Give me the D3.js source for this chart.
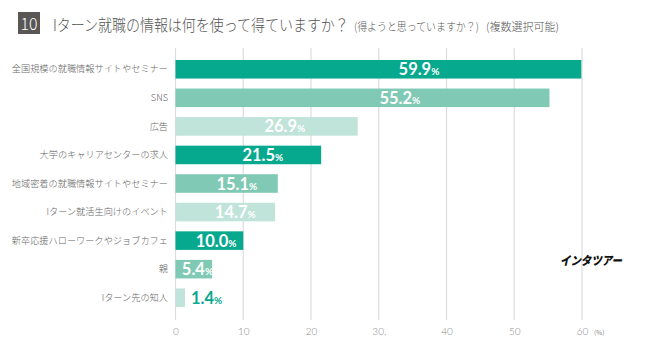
<!DOCTYPE html>
<html><head><meta charset="utf-8">
<script src="https://cdn.jsdelivr.net/npm/d3@7"></script>
<style>
html,body{margin:0;padding:0;background:#fff;}
svg{display:block;}
</style></head>
<body>
<svg id="chart" width="652" height="349"></svg>
<script>
const categories = [
  "全国規模の就職情報サイトやセミナー",
  "SNS",
  "広告",
  "大学のキャリアセンターの求人",
  "地域密着の就職情報サイトやセミナー",
  "Iターン就活生向けのイベント",
  "新卒応援ハローワークやジョブカフェ",
  "親",
  "Iターン先の知人"
];
const values = [59.9, 55.2, 26.9, 21.5, 15.1, 14.7, 10.0, 5.4, 1.4];
const tickValues = [0, 10, 20, 30, 40, 50, 60];
const tickLabels = ["0", "10", "20", "30,", "40", "50", "60"];
const shadeCycle = ["#06a88e", "#80c9b4", "#c0e4d9"];
const titleMain = "Iターン就職の情報は何を使って得ていますか？";
const titleSub1 = "(得ようと思っていますか？)";
const titleSub2 = "(複数選択可能)";
const questionNo = "10";
const unitLabel = "(%)";
const brand = "インタツアー";

const svg = d3.select("#chart");
const jp = "'Noto Sans CJK JP','Noto Sans',sans-serif";
const num = "Lato,'Open Sans',sans-serif";

const x = d3.scaleLinear().domain([0, 60]).range([175.5, 582]);
const y = d3.scaleBand().domain(categories).range([55, 312]).paddingInner(0.35).paddingOuter(0.175);
const color = d3.scaleOrdinal().domain(categories).range(categories.map((d, i) => shadeCycle[i % 3]));

// helper: draw text squeezed horizontally to a target width
function fitText(str, x0, y0, size, weight, fill, width, family) {
  const g = svg.append("g").attr("transform", `translate(${x0},${y0})`);
  const t = g.append("text").attr("font-family", family || jp).attr("font-size", size)
    .attr("font-weight", weight).attr("fill", fill).text(str);
  const w = t.node().getComputedTextLength();
  t.attr("transform", `scale(${Math.min(1, width / w)},1)`);
  return t;
}

// Title
svg.append("rect").attr("x", 18).attr("y", 12).attr("width", 22).attr("height", 22).attr("fill", "#5a5655");
fitText(questionNo, 20.5, 30, 17, 300, "#fff", 17);
fitText(titleMain, 53, 31, 15.5, 300, "#555", 296);
fitText(titleSub1, 354, 31, 11, 300, "#555", 125);
fitText(titleSub2, 486, 31, 11, 300, "#555", 83);

// Gridlines + axis labels
const axis = d3.axisBottom(x).tickValues(tickValues).tickSize(0)
  .tickFormat((d, i) => tickLabels[i]);
const ax = svg.append("g").attr("transform", "translate(0,320)").call(axis);
ax.select(".domain").remove();
ax.selectAll("text").attr("dy", 0).attr("y", 15).attr("font-family", num)
  .attr("font-size", 10).attr("font-weight", 300).attr("fill", "#888");
svg.append("g").selectAll("line").data(tickValues).join("line")
  .attr("x1", d => x(d)).attr("x2", d => x(d)).attr("y1", 48).attr("y2", 320)
  .attr("stroke", "#dcdcdc").attr("stroke-width", 1.2);
svg.append("text").attr("x", 594).attr("y", 335).attr("font-family", jp)
  .attr("font-size", 6.5).attr("fill", "#888").text(unitLabel);

// Category labels
svg.append("g").selectAll("text").data(categories).join("text")
  .attr("x", 168).attr("y", d => y(d) + y.bandwidth() / 2).attr("dy", "0.35em")
  .attr("text-anchor", "end").attr("font-family", jp).attr("font-size", 9.2)
  .attr("font-weight", 300).attr("fill", "#666").text(d => d);

// Bars
svg.append("g").selectAll("rect").data(categories).join("rect")
  .attr("x", x(0)).attr("y", d => y(d))
  .attr("width", (d, i) => x(values[i]) - x(0)).attr("height", y.bandwidth())
  .attr("fill", d => color(d));

// Value labels
const lab = svg.append("g").selectAll("text").data(categories).join("text")
  .attr("y", d => y(d) + y.bandwidth() / 2 + 6)
  .attr("x", (d, i) => values[i] < 3 ? x(values[i]) + 6 : x(values[i] * 0.6))
  .attr("text-anchor", (d, i) => values[i] < 3 ? "start" : "middle")
  .attr("font-family", num).attr("font-weight", 700)
  .attr("fill", (d, i) => values[i] < 3 ? "#06a88e" : "#fff");
lab.append("tspan").attr("font-size", 16.5).text((d, i) => values[i].toFixed(1));
lab.append("tspan").attr("font-size", 10).text("%");

// Brand
fitText(brand, 560, 265, 12, 900, "#111", 62).attr("font-style", "italic");
</script>
</body></html>
